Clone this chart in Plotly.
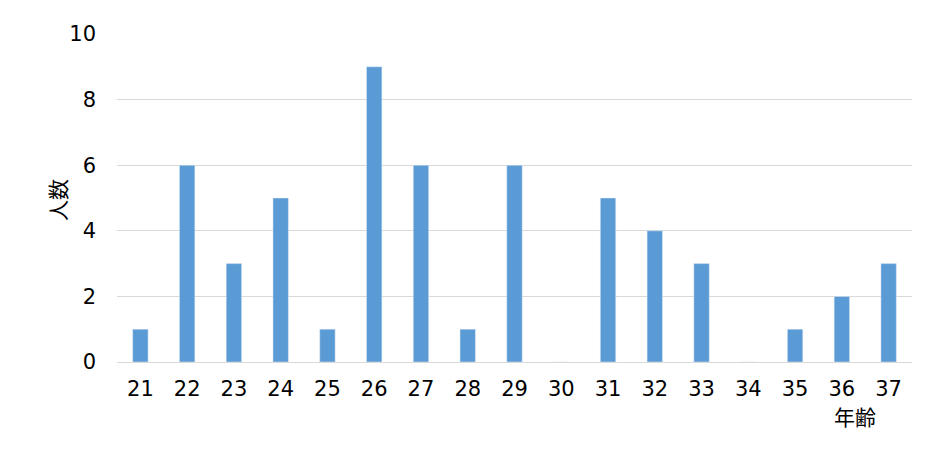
import plotly.graph_objects as go

ages = [str(a) for a in range(21, 38)]
counts = [1, 6, 3, 5, 1, 9, 6, 1, 6, 0, 5, 4, 3, 0, 1, 2, 3]

W, H = 929, 438
L, R, T, B = 109, 25, 26, 84

fig = go.Figure(go.Bar(x=ages, y=counts, marker_color='#5B9BD5', width=0.33))

fig.update_layout(
    width=W, height=H,
    margin={"l": L, "r": R, "t": T, "b": B},
    plot_bgcolor='white', paper_bgcolor='white',
    font={"family": "DejaVu Sans", "size": 21, "color": '#000000'},
    showlegend=False,
    xaxis={"type": "category", "showline": True, "linecolor": '#D9D9D9',
           "ticks": "", "ticklabelstandoff": 8},
    yaxis={"range": [0, 10], "dtick": 2, "gridcolor": '#D9D9D9',
           "zeroline": False, "ticklabelstandoff": 20},
)


def px_note(text, x, y, angle=0):
    # x, y in reference screen pixels
    fig.add_annotation(
        text=text, showarrow=False, textangle=angle,
        xref="paper", yref="paper",
        x=(x - 8 - L) / (W - L - R), y=(H - B - (y - 8)) / (H - B - T),
        font={"family": "Noto Sans CJK JP", "size": 21},
    )


px_note("人数", 40, 200, -90)
px_note("年齢", 878, 433)

fig.write_html("out.html")
